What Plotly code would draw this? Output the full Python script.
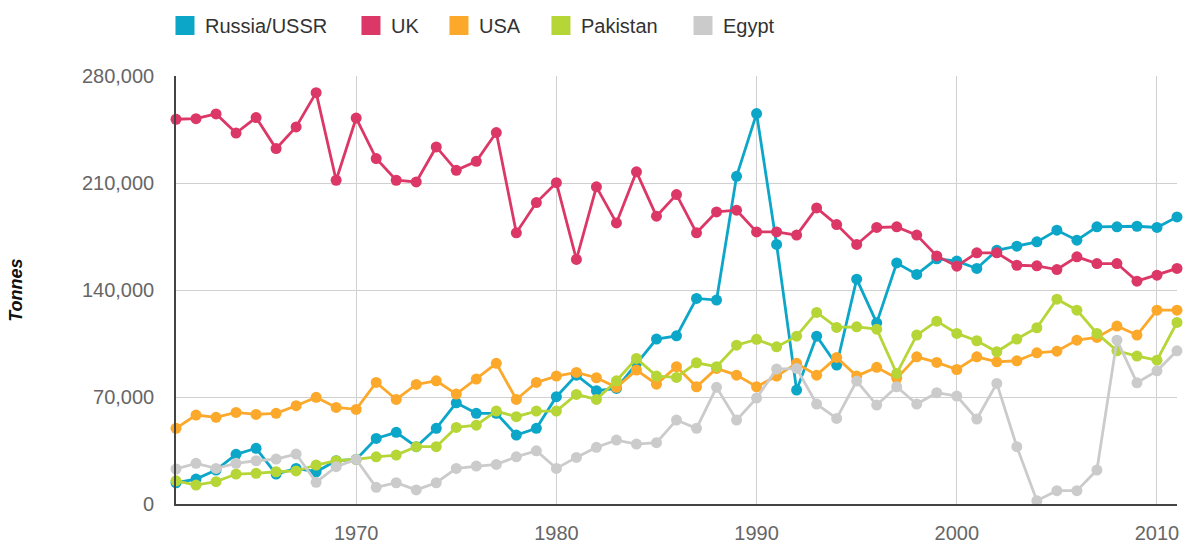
import plotly.graph_objects as go

years = list(range(1961, 2012))

russia = [13900, 16300, 22200, 32500, 36400, 19600, 23300, 21100, 28300, 29200,
          42900, 46900, 37500, 49500, 66200, 59300, 59300, 45100, 49500, 70200,
          84300, 74100, 75600, 92000, 107900, 110000, 134500, 133400, 214400, 255400,
          169800, 74500, 109800, 90900, 147100, 118500, 157700, 150200, 160400, 158900,
          154100, 166000, 168700, 171500, 179100, 172600, 181300, 181300, 181700, 180900, 187800]
uk = [251700, 252100, 255200, 242700, 252800, 232500, 246700, 269100, 211800, 252500,
      226000, 211800, 210700, 233600, 218300, 224200, 243000, 177400, 197200, 210200,
      160000, 207500, 183900, 217300, 188300, 202400, 177400, 191100, 192200, 178000,
      178000, 175900, 193700, 182800, 169800, 180900, 181300, 175900, 162300, 155600,
      164300, 164300, 156200, 155800, 153400, 161700, 157300, 157300, 145800, 149700, 154100]
usa = [49500, 58200, 56700, 59900, 58600, 59300, 64300, 69800, 63200, 61900,
       79500, 68400, 78200, 80600, 71900, 81700, 92000, 68400, 79500, 83700,
       86100, 82600, 76300, 87600, 78400, 89800, 76700, 88700, 84300, 76700,
       83700, 92000, 84300, 95900, 83700, 89400, 82200, 96300, 92600, 88000,
       96300, 93000, 93700, 98900, 100000, 107200, 109000, 116400, 110500, 126800, 126800]
pakistan = [15200, 12400, 14600, 19600, 20100, 21100, 21600, 25500, 28300, 29200,
            30900, 32000, 37500, 37500, 50100, 51600, 60800, 57100, 60800, 60800,
            71700, 68400, 80600, 95200, 83700, 82800, 92400, 89800, 103900, 107700,
            102800, 109800, 125300, 115500, 115900, 114400, 85400, 110500, 119600, 111600,
            106800, 99600, 107900, 115300, 134000, 126800, 111600, 100200, 96800, 94100, 118800]
egypt = [22900, 26600, 23300, 26600, 28300, 29400, 32700, 14200, 24400, 29200,
         10900, 13900, 9200, 13900, 23300, 24800, 25900, 30900, 34800, 23300,
         30500, 37100, 41800, 39200, 40100, 54900, 49500, 76300, 54900, 69300,
         88300, 88700, 65400, 56000, 80400, 64700, 76700, 65400, 72800, 70600,
         55600, 78900, 37500, 2200, 8700, 8700, 22200, 107200, 79300, 87100, 100200]

series_names = ["Russia/USSR", "UK", "USA", "Pakistan", "Egypt"]
series_values = [russia, uk, usa, pakistan, egypt]
colors = ["#0ba6c8", "#dc3867", "#fca82a", "#b6d537", "#cbcbcb"]

x_ticks = [1970, 1980, 1990, 2000, 2010]
y_ticks = [0, 70000, 140000, 210000, 280000]

FONT = "Liberation Sans, Arial, sans-serif"

legend_ids = ["legend", "legend2", "legend3", "legend4", "legend5"]
legend_x = [-0.0110, 0.1748, 0.2627, 0.3646, 0.5065]

fig = go.Figure()
for name, vals, col in zip(series_names, series_values, colors):
    fig.add_trace(go.Scatter(
        x=years, y=vals, name=name, mode="lines+markers",
        line=dict(color=col, width=2.8),
        marker=dict(color=col, size=11),
        cliponaxis=False, showlegend=False,
    ))

for name, col, lid in zip(series_names, colors, legend_ids):
    fig.add_trace(go.Scatter(
        x=[None], y=[None], name=name, mode="markers", legend=lid,
        marker=dict(color=col, symbol="square", size=16, line=dict(color=col, width=3)),
        showlegend=True,
    ))

legend_common = dict(
    orientation="h", xanchor="left", y=1.118, yanchor="middle",
    font=dict(family=FONT, size=20, color="#333333"),
    bgcolor="rgba(0,0,0,0)",
)
legend_layout = {lid: dict(x=lx, **legend_common) for lid, lx in zip(legend_ids, legend_x)}

fig.update_layout(
    width=1186, height=545,
    margin=dict(l=176, r=9, t=76, b=41, autoexpand=False),
    paper_bgcolor="white", plot_bgcolor="white",
    font=dict(family=FONT, size=20, color="#666666"),
    xaxis=dict(
        range=[1961, 2011], tickvals=x_ticks, showgrid=True,
        gridcolor="#d0d0d0", gridwidth=1.3,
        showline=True, linecolor="#444444", linewidth=1.6,
        ticks="", ticklabelstandoff=10, zeroline=False, automargin=False,
        tickfont=dict(family=FONT, size=20, color="#666666"),
    ),
    yaxis=dict(
        range=[0, 280000], tickvals=y_ticks, tickformat=",",
        showgrid=True, gridcolor="#d0d0d0", gridwidth=1.3,
        showline=True, linecolor="#444444", linewidth=1.6,
        ticks="", ticklabelstandoff=16, zeroline=False, automargin=False,
        tickfont=dict(family=FONT, size=20, color="#666666"),
    ),
    annotations=[dict(
        text="Tonnes", xref="paper", yref="paper", x=-0.160, y=0.5,
        xanchor="center", yanchor="middle", textangle=-90, showarrow=False,
        font=dict(family=FONT, size=18, color="#111111", weight="bold", style="italic"),
    )],
    **legend_layout,
)

fig.write_html("out.html", config={"displayModeBar": False},
               post_script="document.body.style.margin='0';")
